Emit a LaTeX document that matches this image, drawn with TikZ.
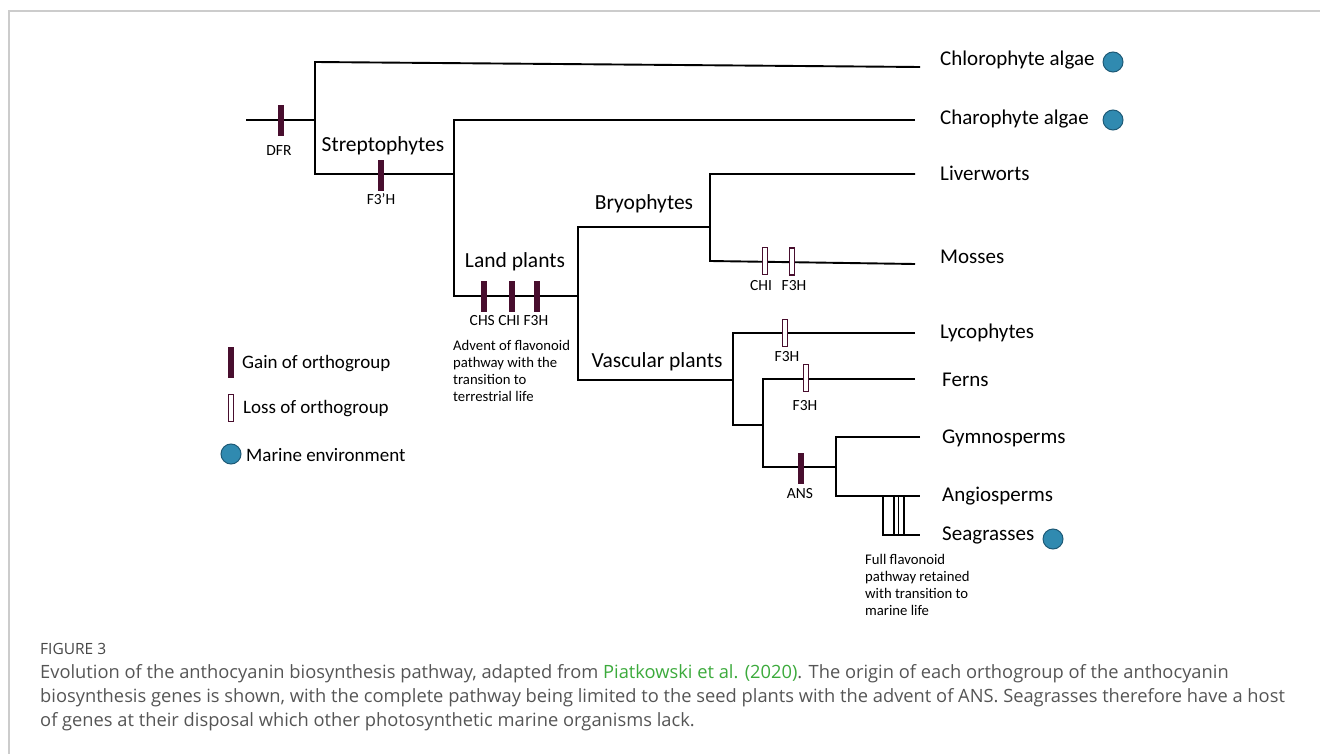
\documentclass[tikz,border=0pt]{standalone}
\usepackage{fontspec}
\setmainfont{Carlito}
\newfontfamily\capfont{Open Sans}
\definecolor{barc}{RGB}{72,14,46}
\definecolor{marinec}{RGB}{48,138,176}
\definecolor{marined}{RGB}{30,90,118}
\definecolor{capgray}{RGB}{85,85,85}
\definecolor{figgray}{RGB}{70,70,70}
\definecolor{linkgreen}{RGB}{60,170,60}
\tikzset{
  branch/.style={line width=1.9pt, black},
  gain/.style={rectangle, fill=barc, draw=barc, line width=0.8pt, minimum width=5pt, minimum height=30pt, inner sep=0pt},
  loss/.style={rectangle, fill=white, draw=barc, line width=1.4pt, minimum width=5.5pt, minimum height=27pt, inner sep=0pt},
  marine/.style={circle, fill=marinec, draw=marined, line width=1pt, minimum size=20pt, inner sep=0pt},
  taxon/.style={anchor=west, inner sep=0pt, font=\fontsize{21}{24}\selectfont},
  clade/.style={inner sep=0pt, font=\fontsize{21.5}{24}\selectfont},
  gene/.style={inner sep=0pt, font=\fontsize{15.5}{17}\selectfont},
  note/.style={anchor=north west, inner sep=0pt, align=left, font=\fontsize{14.7}{17}\selectfont},
  legend/.style={anchor=west, inner sep=0pt, font=\fontsize{19}{22}\selectfont},
  capline/.style={anchor=base west, inner sep=0pt, text=capgray, font=\capfont\fontsize{18.3}{20}\selectfont}
}
\begin{document}
\begin{tikzpicture}[x=1pt,y=-1pt]
\useasboundingbox (0,0) rectangle (1320,754);
\draw[black!20, line width=1.3pt] (9,754) -- (9,11) -- (1320,11);

% coordinates
\coordinate (r0) at (246,120);
\coordinate (r1) at (315,120);
\coordinate (r1t) at (315,62);
\coordinate (r1b) at (315,174);
\coordinate (chl) at (920,67);
\coordinate (s1) at (454,174);
\coordinate (s1t) at (454,120);
\coordinate (s1b) at (454,296);
\coordinate (cha) at (915,120);
\coordinate (l1) at (578,296);
\coordinate (l1t) at (578,227);
\coordinate (l1b) at (578,380);
\coordinate (b1) at (710,227);
\coordinate (b1t) at (710,174);
\coordinate (b1b) at (710,261);
\coordinate (liv) at (915,174);
\coordinate (mos) at (915,264);
\coordinate (v1) at (733,380);
\coordinate (v1t) at (733,333);
\coordinate (v1b) at (733,425);
\coordinate (lyc) at (915,333);
\coordinate (v2) at (763,425);
\coordinate (v2t) at (763,379);
\coordinate (v2b) at (763,467);
\coordinate (fer) at (915,379);
\coordinate (sp) at (836,467);
\coordinate (spt) at (836,437);
\coordinate (spb) at (836,496);
\coordinate (gym) at (920,437);
\coordinate (ang) at (920,496);
\coordinate (sg1) at (883,496);
\coordinate (sg2) at (883,535);
\coordinate (sg3) at (920,535);
\coordinate (sga) at (894,496);
\coordinate (sgb) at (894,535);
\coordinate (sgc) at (898.5,496);
\coordinate (sgd) at (898.5,535);
\coordinate (sge) at (904,496);
\coordinate (sgf) at (904,535);

% branches
\draw[branch] (r0) -- (r1);
\draw[branch] (chl) -- (r1t) -- (r1b) -- (s1);
\draw[branch] (cha) -- (s1t) -- (s1b) -- (l1);
\draw[branch] (b1) -- (l1t) -- (l1b) -- (v1);
\draw[branch] (liv) -- (b1t) -- (b1b) -- (mos);
\draw[branch] (lyc) -- (v1t) -- (v1b) -- (v2);
\draw[branch] (fer) -- (v2t) -- (v2b) -- (sp);
\draw[branch] (gym) -- (spt) -- (spb) -- (ang);
\draw[branch, line width=1.4pt] (sg1) -- (sg2) -- (sg3);
\draw[branch, line width=1.4pt] (sga) -- (sgb);
\draw[branch, line width=1.4pt] (sgc) -- (sgd);
\draw[branch, line width=1.4pt] (sge) -- (sgf);

% gains and losses
\node[gain] (dfr) at (281,120) {};
\node[gene] (dfrl) at (279,151) {DFR};
\node[gain] (f3ph) at (381,175) {};
\node[gene] (f3phl) at (381,199) {F3'H};
\node[gain] (chs) at (484,296) {};
\node[gain] (chi) at (512,296) {};
\node[gain] (f3h) at (537,296) {};
\node[gene] (lpl) at (509,321) {CHS CHI F3H};
\node[loss] (mchi) at (765,261) {};
\node[loss] (mf3h) at (792,261.5) {};
\node[gene] (mchil) at (761,286) {CHI};
\node[gene] (mf3hl) at (794,286) {F3H};
\node[loss] (lf3h) at (785,333) {};
\node[gene] (lf3hl) at (787,357) {F3H};
\node[loss] (ff3h) at (806,378) {};
\node[gene] (ff3hl) at (805,406) {F3H};
\node[gain] (ans) at (801,468) {};
\node[gene] (ansl) at (800,494) {ANS};

% clade labels
\node[clade] (strep) at (383,146) {Streptophytes};
\node[clade] (land) at (515,262) {Land plants};
\node[clade] (bryo) at (644,204) {Bryophytes};
\node[clade] (vasc) at (657,362) {Vascular plants};

% notes
\node[note] (advent) at (453,340) {Advent of flavonoid\\pathway with the\\transition to\\terrestrial life};
\node[note] (full) at (865,554) {Full flavonoid\\pathway retained\\with transition to\\marine life};

% taxa
\node[taxon] (tchl) at (940,60) {Chlorophyte algae};
\node[taxon] (tcha) at (940,119) {Charophyte algae};
\node[taxon] (tliv) at (940,173) {Liverworts};
\node[taxon] (tmos) at (940,257) {Mosses};
\node[taxon] (tlyc) at (940,333) {Lycophytes};
\node[taxon] (tfer) at (942,380) {Ferns};
\node[taxon] (tgym) at (942,438) {Gymnosperms};
\node[taxon] (tang) at (942,496) {Angiosperms};
\node[taxon] (tsea) at (942,535) {Seagrasses};
\node[marine] (m1) at (1113,62) {};
\node[marine] (m2) at (1113,120) {};
\node[marine] (m3) at (1053,539) {};

% legend
\node[gain] (lg) at (231,362) {};
\node[legend] (lgt) at (242,364) {Gain of orthogroup};
\node[loss] (ll) at (231,408) {};
\node[legend] (llt) at (243,409) {Loss of orthogroup};
\node[marine] (lm) at (231,454) {};
\node[legend] (lmt) at (246,455) {Marine environment};

% caption
\node[anchor=base west, inner sep=0pt, text=figgray, font=\capfont\fontsize{15.5}{17}\selectfont] (fig) at (40,654) {FIGURE 3};
\node[capline] (c1) at (40,678) {Evolution of the anthocyanin biosynthesis pathway, adapted from \textcolor{linkgreen}{Piatkowski et al. (2020)}. The origin of each orthogroup of the anthocyanin};
\node[capline] (c2) at (40,702) {biosynthesis genes is shown, with the complete pathway being limited to the seed plants with the advent of ANS. Seagrasses therefore have a host};
\node[capline] (c3) at (40,726) {of genes at their disposal which other photosynthetic marine organisms lack.};
\end{tikzpicture}
\end{document}
